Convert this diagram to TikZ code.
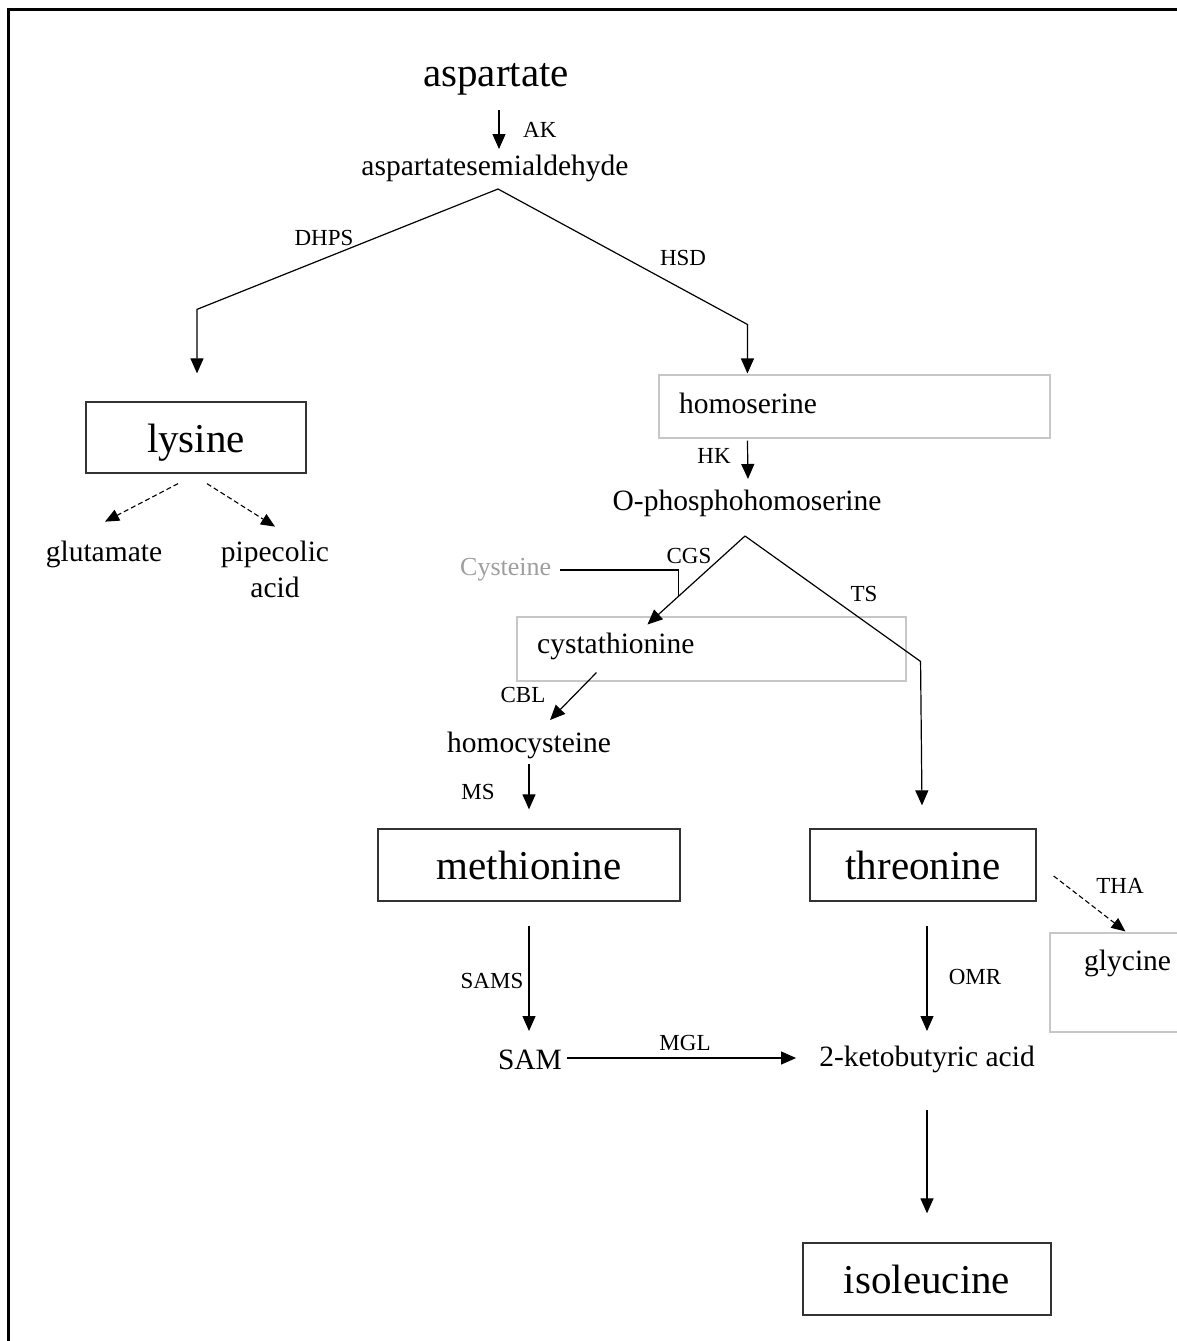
\documentclass[tikz,border=0pt]{standalone}
\usepackage{fontspec}
\setmainfont{Liberation Serif}
\usetikzlibrary{arrows.meta,calc}
\begin{document}
\begin{tikzpicture}[x=1pt,y=-1pt,
 big/.style={font=\fontsize{41}{45}\selectfont, inner sep=0pt},
 mid/.style={font=\fontsize{29.5}{36}\selectfont, inner sep=0pt},
 lab/.style={font=\fontsize{23}{26}\selectfont, inner sep=0pt},
 blackbox/.style={draw=black!80, line width=1.3pt, inner sep=0pt, font=\fontsize{41}{45}\selectfont, text height=29pt, text depth=0pt},
 graybox/.style={draw=black!22, line width=1.1pt, inner sep=0pt},
 conn/.style={line width=1.2pt},
 arr/.style={conn, -{Triangle[length=15pt,width=13pt]}},
 darr/.style={line width=1.1pt, dash pattern=on 5pt off 3pt, -{Triangle[length=14pt,width=12pt]}},
]
\useasboundingbox (0,0) rectangle (1176,1341);
\draw[line width=3.4pt] (8.5,1345) -- (8.5,9.5) -- (1180,9.5);

% nodes
\node[big, anchor=base] (asp) at (496,86) {aspartate};
\node[lab, anchor=base west] (ak) at (523,137) {AK};
\node[mid, anchor=base] (asd) at (495,175) {aspartatesemialdehyde};
\node[lab, anchor=base] (dhps) at (324,245) {DHPS};
\node[lab, anchor=base] (hsd) at (683,265) {HSD};
\node[blackbox, minimum width=220pt, minimum height=71pt] (lys) at (196,437.5) {lysine};
\node[mid, anchor=base] (glu) at (104,561) {glutamate};
\node[mid, anchor=base, align=center] (pip) at (275,597) {pipecolic\\acid};

\node[graybox, minimum width=391pt, minimum height=63pt] (hsbox) at (854.5,406.5) {};
\node[mid, anchor=base west] (hs) at (679,413) {homoserine};
\node[lab, anchor=base] (hk) at (714,463) {HK};
\node[mid, anchor=base] (ophs) at (747,510) {O-phosphohomoserine};
\node[lab, anchor=base] (cgs) at (689,563) {CGS};
\node[font=\fontsize{26}{30}\selectfont, inner sep=0pt, text=black!38, anchor=base west] (cys) at (460,575) {Cysteine};
\node[lab, anchor=base] (ts) at (864,601) {TS};
\node[graybox, minimum width=389pt, minimum height=64pt] (ctbox) at (711.5,649) {};
\node[mid, anchor=base west] (ct) at (537,653) {cystathionine};
\node[lab, anchor=base] (cbl) at (523,702) {CBL};
\node[mid, anchor=base] (hcys) at (529,752) {homocysteine};
\node[lab, anchor=base] (ms) at (478,799) {MS};
\node[blackbox, minimum width=302pt, minimum height=72pt] (met) at (529,865) {methionine};
\node[blackbox, minimum width=226pt, minimum height=72pt] (thr) at (923,865) {threonine};
\node[lab, anchor=base] (tha) at (1120,893) {THA};
\node[graybox, minimum width=128pt, minimum height=99pt] (glybox) at (1114,982.5) {};
\node[mid, anchor=base west] (gly) at (1084,970) {glycine};
\node[lab, anchor=base] (sams) at (492,988) {SAMS};
\node[lab, anchor=base] (omr) at (975,984) {OMR};
\node[mid, anchor=base] (sam) at (530,1069) {SAM};
\node[lab, anchor=base] (mgl) at (685,1050) {MGL};
\node[mid, anchor=base] (kb) at (927,1066) {2-ketobutyric acid};
\node[blackbox, minimum width=248pt, minimum height=72pt] (ile) at (927,1279) {isoleucine};

% connectors
\draw[arr] ($(asp.base)+(3,24)$) -- ($(asd.base)+(4,-26)$);
\coordinate (apexA) at ($(asd.base)+(3,14)$);
\draw[arr] (apexA) -- ($(lys.north)+(1,-92)$) -- ($(lys.north)+(1,-28)$);
\draw[arr] (apexA) -- ($(hsbox.north west)+(89,-50)$) -- ($(hsbox.north west)+(89,-1)$);
\draw[darr] ($(lys.south)+(-18,10)$) -- ($(lys.south)+(-91,48)$);
\draw[darr] ($(lys.south)+(11,10)$) -- ($(lys.south)+(79,53)$);
\draw[arr] ($(hsbox.south west)+(89,2)$) -- ($(ophs.base)+(1,-31)$);
\coordinate (apexB) at ($(ophs.base)+(-2,26)$);
\coordinate (cgsend) at ($(ctbox.north west)+(131,8)$);
\draw[arr] (apexB) -- (cgsend);
\path (apexB) -- coordinate[pos=0.68] (cysjoin) (cgsend);
\draw[conn] ($(cys.base east)+(9,-5)$) -| (cysjoin);
\draw[arr] (apexB) -- ($(ctbox.north east)+(14,45)$) -- ($(thr.north)+(-1,-23)$);
\draw[arr] ($(ctbox.south west)+(80,-9)$) -- ($(hcys.base)+(21,-32)$);
\draw[arr] ($(hcys.base)+(0,12)$) -- ($(met.north)+(0,-19)$);
\draw[darr] ($(thr.east)+(17,11)$) -- ($(glybox.north west)+(76,-1)$);
\draw[arr] ($(met.south)+(0,24)$) -- ($(sam.base)+(-1,-38)$);
\draw[arr] ($(thr.south)+(4,24)$) -- ($(kb.base)+(0,-35)$);
\draw[arr] ($(sam.base east)+(5,-11)$) -- ($(kb.base west)+(-23,-8)$);
\draw[arr] ($(kb.base)+(0,44)$) -- ($(ile.north)+(0,-29)$);
\end{tikzpicture}
\end{document}
